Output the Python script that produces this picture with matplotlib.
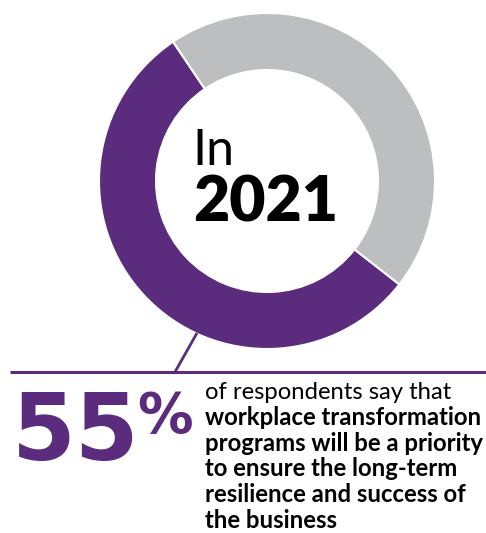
import matplotlib
matplotlib.use("Agg")
import matplotlib.pyplot as plt

# data
labels = ["Priority", "Other"]
shares = [55, 45]
colors = ["#5B2C7E", "#BDBEC0"]
year = "2021"
headline = "55"
line_plain = "of respondents say that"
lines_bold = ["workplace transformation",
              "programs will be a priority",
              "to ensure the long-term",
              "resilience and success of",
              "the business"]

W, H = 486, 533
fig = plt.figure(figsize=(W / 100, H / 100), dpi=100)
ax = fig.add_axes([0, 0, 1, 1])

# donut
ax.pie(shares, colors=colors, startangle=124, counterclock=True,
       center=(267, H - 181), radius=168,
       wedgeprops=dict(width=57, edgecolor="white", linewidth=1.5))
ax.set_xlim(0, W)
ax.set_ylim(0, H)
ax.set_aspect("equal")
ax.axis("off")

# centre text
ax.text(192, H - 165, "In", fontsize=36, fontfamily="Lato", fontweight="normal",
        color="black", ha="left", va="baseline")
ax.text(193, H - 221, year, fontsize=45, fontfamily="Lato", fontweight="heavy",
        color="black", ha="left", va="baseline")

# callout line
purple = colors[0]
ax.plot([197, 175], [H - 333, H - 372], color=purple, lw=2, solid_capstyle="butt")
ax.plot([10, W], [H - 372, H - 372], color=purple, lw=2.2, solid_capstyle="butt")

# big number
ax.text(12, H - 460, headline, fontsize=66, fontfamily="DejaVu Sans", fontweight="bold",
        color=purple, ha="left", va="baseline")
ax.text(137, H - 432, "%", fontsize=40, fontfamily="DejaVu Sans", fontweight="bold",
        color=purple, ha="left", va="baseline")

# description
x0, y0, step = 205, 399, 25.8
ax.text(x0, H - y0, line_plain, fontsize=17.2, fontfamily="Lato",
        color="black", ha="left", va="baseline")
for i, s in enumerate(lines_bold):
    ax.text(x0, H - (y0 + step * (i + 1)), s, fontsize=17.2, fontfamily="Lato",
            fontweight="bold", color="black", ha="left", va="baseline")

fig.savefig("out.png", dpi=100)
